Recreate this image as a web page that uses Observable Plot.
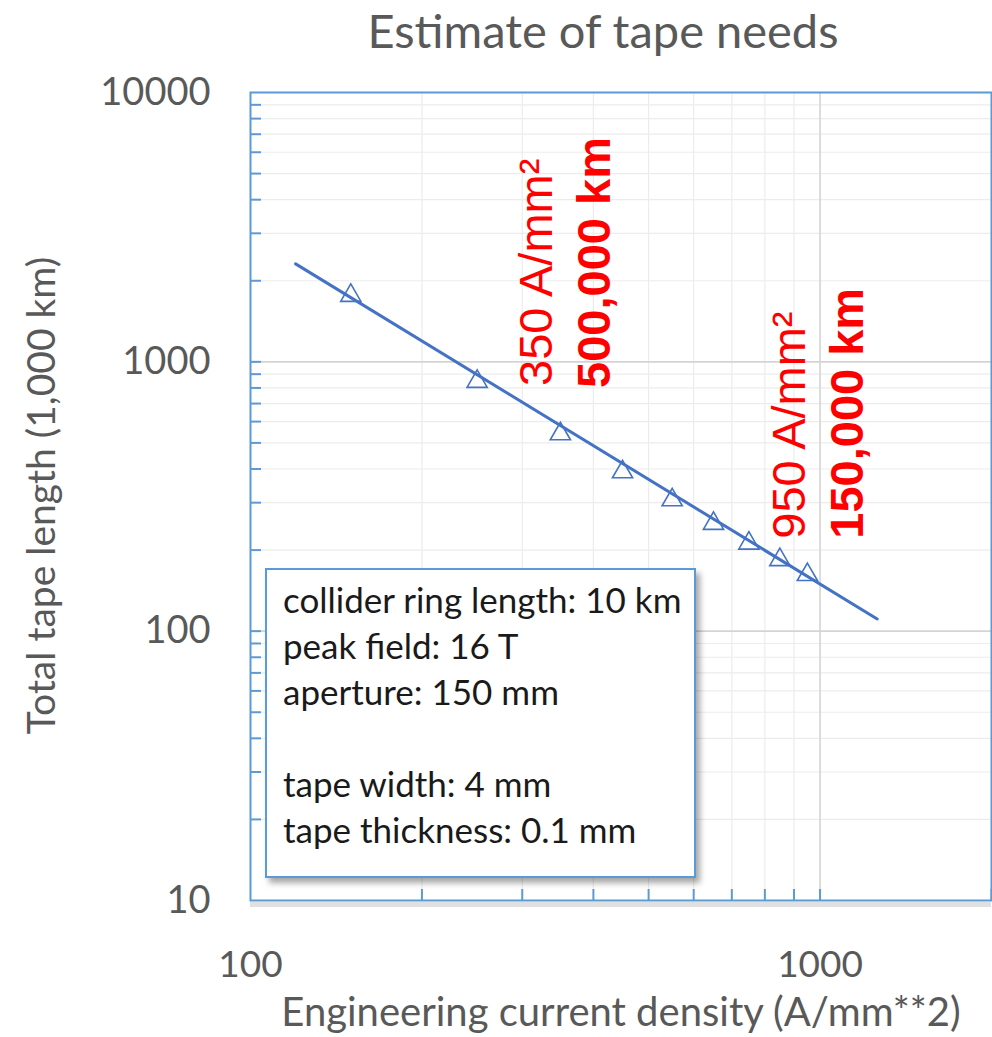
<!DOCTYPE html>
<html><head><meta charset="utf-8">
<script src="https://cdn.jsdelivr.net/npm/d3@7"></script>
<script src="https://cdn.jsdelivr.net/npm/@observablehq/plot@0.6"></script>
<style>
body{margin:0;overflow:hidden;background:#fff;}
#wrap{position:relative;width:992px;height:1037px;}
#box{position:absolute;left:265px;top:568px;width:431px;height:310px;box-sizing:border-box;border:2px solid #5b9bd5;background:#fff;box-shadow:4px 5px 6px rgba(0,0,0,0.35);padding:6px 0 0 16px;font-family:Lato,sans-serif;font-size:35px;color:#1a1a1a;}
#box div{line-height:46px;height:46px;white-space:nowrap;}
</style></head><body><div id="wrap"></div>
<script>
// Data
const densityJ = [150, 250, 350, 450, 550, 650, 750, 850, 950];
const tapeLength = [1763, 845, 540, 390, 307, 251, 212, 184, 162];
const trendJ = [120, 1260];
const trendL = [2310, 111];

const xMajor = [100, 1000];
const xMinor = [200, 300, 400, 500, 600, 700, 800, 900, 2000];
const yMajor = [10, 100, 1000, 10000];
const yMinor = [20, 30, 40, 50, 60, 70, 80, 90, 200, 300, 400, 500, 600, 700, 800, 900, 2000, 3000, 4000, 5000, 6000, 7000, 8000, 9000];

const titleText = "Estimate of tape needs";
const xTitle = "Engineering current density (A/mm**2)";
const yTitle = "Total tape length (1,000 km)";

const noteLow = {j: 350, l: 500, density: "350 A/mm²", total: "500,000 km"};
const noteHigh = {j: 950, l: 150, density: "950 A/mm²", total: "150,000 km"};

const boxLines = ["collider ring length: 10 km", "peak field: 16 T", "aperture: 150 mm", "", "tape width: 4 mm", "tape thickness: 0.1 mm"];

const points = densityJ.map((j, i) => ({j, l: tapeLength[i]}));
const trend = trendJ.map((j, i) => ({j, l: trendL[i]}));

const gray = "#595959";
const blue = "#5b9bd5";
const lineBlue = "#4472c4";
const red = "#ff0000";
const redFont = "'Liberation Sans', Arial, sans-serif";

const noteMark = (note, key, dx, dy, bold) => Plot.text([note], {
  x: "j", y: "l", text: key, rotate: -90, dx, dy,
  textAnchor: "start", lineAnchor: "bottom",
  fontSize: 47, fontFamily: redFont, fontWeight: bold ? "bold" : "normal", fill: red
});

const plot = Plot.plot({
  width: 992, height: 1037,
  marginTop: 92, marginBottom: 137, marginLeft: 250, marginRight: 1,
  style: {fontFamily: "Lato, sans-serif", background: "#fff", color: gray, overflow: "visible"},
  x: {type: "log", domain: [100, 2000]},
  y: {type: "log", domain: [10, 10000]},
  marks: [
    Plot.ruleX(xMinor, {stroke: "#ececec", strokeWidth: 1.2}),
    Plot.ruleY(yMinor, {stroke: "#ececec", strokeWidth: 1.2}),
    Plot.ruleX([1000], {stroke: "#d4d4d4", strokeWidth: 1.6}),
    Plot.ruleY([100, 1000], {stroke: "#d4d4d4", strokeWidth: 1.6}),
    Plot.tickX(xMinor.concat([1000]), {x: d => d, insetTop: 797, stroke: blue, strokeWidth: 2}),
    Plot.tickY(yMinor.concat([100, 1000]), {y: d => d, insetRight: 730, stroke: blue, strokeWidth: 2}),
    Plot.ruleY([10], {stroke: "#000", strokeOpacity: 0.12, strokeWidth: 5, dy: 4}),
    Plot.frame({stroke: blue, strokeWidth: 2}),
    Plot.axisX({ticks: xMajor, tickSize: 0, tickPadding: 50, tickFormat: d3.format("d"), fontSize: 37, label: null}),
    Plot.axisY({ticks: yMajor, tickSize: 0, tickPadding: 40, tickFormat: d3.format("d"), fontSize: 38, label: null}),
    Plot.line(trend, {x: "j", y: "l", stroke: lineBlue, strokeWidth: 3}),
    Plot.dot(points, {x: "j", y: "l", symbol: "triangle", r: 7.5, stroke: lineBlue, strokeWidth: 1.6, fill: "none"}),
    noteMark(noteLow, "density", -8, -57, false),
    noteMark(noteLow, "total", 50, -55, true),
    noteMark(noteHigh, "density", -2, -45, false),
    noteMark(noteHigh, "total", 56, -45, true),
    Plot.text([titleText], {text: d => d, frameAnchor: "top", dx: -18, dy: -45, lineAnchor: "bottom", fontSize: 47, fill: gray}),
    Plot.text([xTitle], {text: d => d, frameAnchor: "bottom", dx: 0, dy: 125, lineAnchor: "bottom", fontSize: 40, fill: gray}),
    Plot.text([yTitle], {text: d => d, frameAnchor: "left", rotate: -90, dx: -196, dy: -1, textAnchor: "middle", lineAnchor: "bottom", fontSize: 39, fill: gray})
  ]
});

const wrap = document.getElementById("wrap");
wrap.append(plot);
const box = document.createElement("div");
box.id = "box";
for (const t of boxLines) {
  const d = document.createElement("div");
  d.textContent = t;
  box.append(d);
}
wrap.append(box);
</script>
</body></html>
